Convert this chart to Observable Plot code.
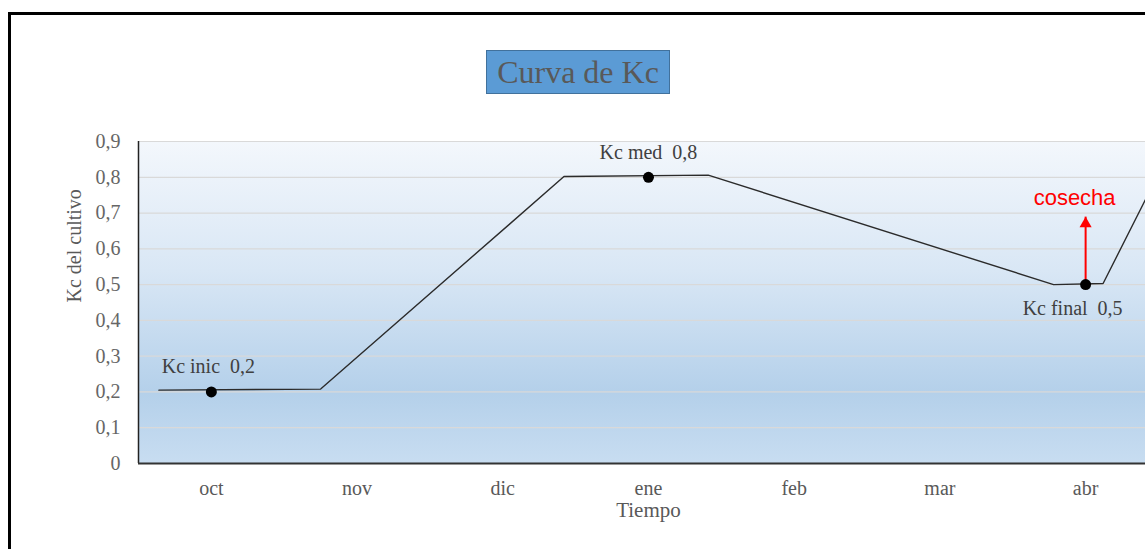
<!DOCTYPE html>
<html>
<head>
<meta charset="utf-8">
<script src="https://cdn.jsdelivr.net/npm/d3@7"></script>
<script src="https://cdn.jsdelivr.net/npm/@observablehq/plot@0.6"></script>
<style>
  html, body { margin: 0; padding: 0; background: #fff; overflow: hidden; width: 1145px; height: 549px; }
  #frame { position: absolute; left: 8px; top: 12px; width: 1300px; height: 700px;
           border-left: 3.5px solid #000; border-top: 3.5px solid #000; box-sizing: border-box; }
  #title { position: absolute; left: 486px; top: 50px; width: 184px; height: 44px; box-sizing: border-box;
           background: #5b9bd5; border: 1px solid #41719c; color: #595959;
           font-family: "Liberation Serif", serif; font-size: 32px; line-height: 42px; text-align: center; white-space: pre; }
  #chart { position: absolute; left: 0; top: 0; }
</style>
</head>
<body>
<svg width="0" height="0" style="position:absolute">
  <defs>
    <linearGradient id="bg" x1="0" y1="0" x2="0" y2="1">
      <stop offset="0%" stop-color="#f3f7fc"/>
      <stop offset="40%" stop-color="#d9e7f5"/>
      <stop offset="78%" stop-color="#b4d0ea"/>
      <stop offset="100%" stop-color="#c8ddf1"/>
    </linearGradient>
  </defs>
</svg>
<div id="frame"></div>
<div id="title">Curva de Kc</div>
<div id="chart"></div>
<script>
// Categories (months) on the x axis, index 0 = oct
const months = ["oct", "nov", "dic", "ene", "feb", "mar", "abr"];

// Kc curve vertices (x in month units, y = Kc)
const kcX = [-0.36, 0.75, 2.42, 3.41, 5.78, 6.12, 6.55];
const kcY = [0.205, 0.208, 0.802, 0.806, 0.500, 0.503, 0.85];

// Stage markers
const stageNames = ["Kc inic  0,2", "Kc med  0,8", "Kc final  0,5"];
const stageX = [0, 3, 6];
const stageY = [0.2, 0.8, 0.5];

// Harvest annotation
const harvestLabel = ["cosecha"];
const harvestX = [6];
const harvestFrom = [0.5];
const harvestTo = [0.69];

// Y axis ticks
const yTicks = [0, 0.1, 0.2, 0.3, 0.4, 0.5, 0.6, 0.7, 0.8, 0.9];
const yTickLabels = ["0", "0,1", "0,2", "0,3", "0,4", "0,5", "0,6", "0,7", "0,8", "0,9"];

const xTitle = "Tiempo";
const yTitle = "Kc del cultivo";

const curve = kcX.map((x, i) => ({x, y: kcY[i]}));
const stages = stageNames.map((name, i) => ({name, x: stageX[i], y: stageY[i]}));
const harvest = harvestLabel.map((t, i) => ({t, x: harvestX[i], y1: harvestFrom[i], y2: harvestTo[i]}));

const chart = Plot.plot({
  width: 1145,
  height: 549,
  marginLeft: 138,
  marginRight: 0,
  marginTop: 141,
  marginBottom: 86,
  style: {background: "transparent", fontFamily: "Liberation Serif, serif", fontSize: "20px", color: "#595959", overflow: "visible"},
  x: {domain: [-0.5, 6.411]},
  y: {domain: [0, 0.9]},
  marks: [
    Plot.frame({fill: "url(#bg)", stroke: "none"}),
    Plot.gridY(yTicks, {stroke: "#d9d9d9", strokeOpacity: 1, strokeWidth: 1.2}),
    Plot.line(curve, {x: "x", y: "y", stroke: "#2b2b2b", strokeWidth: 1.4, clip: true}),
    Plot.link(harvest, {x1: "x", x2: "x", y1: "y1", y2: "y2", stroke: "#ff0000", strokeWidth: 2}),
    Plot.dot(harvest, {x: "x", y: "y2", symbol: "triangle", r: 4.5, fill: "#ff0000", dy: 7}),
    Plot.dot(stages, {x: "x", y: "y", r: 5.5, fill: "#000"}),
    Plot.ruleX([-0.5], {stroke: "#222", strokeWidth: 1.5}),
    Plot.ruleY([0], {stroke: "#333", strokeWidth: 2}),
    Plot.axisY({ticks: yTicks, tickFormat: (d, i) => yTickLabels[i], tickSize: 0, tickPadding: 18, label: null, fill: "#666"}),
    Plot.axisX({ticks: months.map((m, i) => i), tickFormat: (d, i) => months[i], tickSize: 0, tickPadding: 17, label: null, fill: "#595959"}),
    Plot.text(stages.slice(0, 1), {x: "x", y: "y", text: "name", dy: -25, dx: -3, fill: "#404040", fontSize: 20}),
    Plot.text(stages.slice(1, 2), {x: "x", y: "y", text: "name", dy: -25, fill: "#404040", fontSize: 20}),
    Plot.text(stages.slice(2), {x: "x", y: "y", text: "name", dy: 24, dx: -13, fill: "#404040", fontSize: 20}),
    Plot.text(harvest, {x: "x", y: "y2", text: "t", dy: -19, dx: -11, fill: "#ff0000", fontSize: 22, fontFamily: "Liberation Sans, sans-serif"}),
    Plot.text([xTitle], {x: 3, frameAnchor: "bottom", dy: 53, text: d => d, fill: "#595959", fontSize: 21}),
    Plot.text([yTitle], {y: 0.45, frameAnchor: "left", dx: -64, rotate: -90, text: d => d, fill: "#595959", fontSize: 20})
  ]
});
document.getElementById("chart").append(chart);
</script>
</body>
</html>
